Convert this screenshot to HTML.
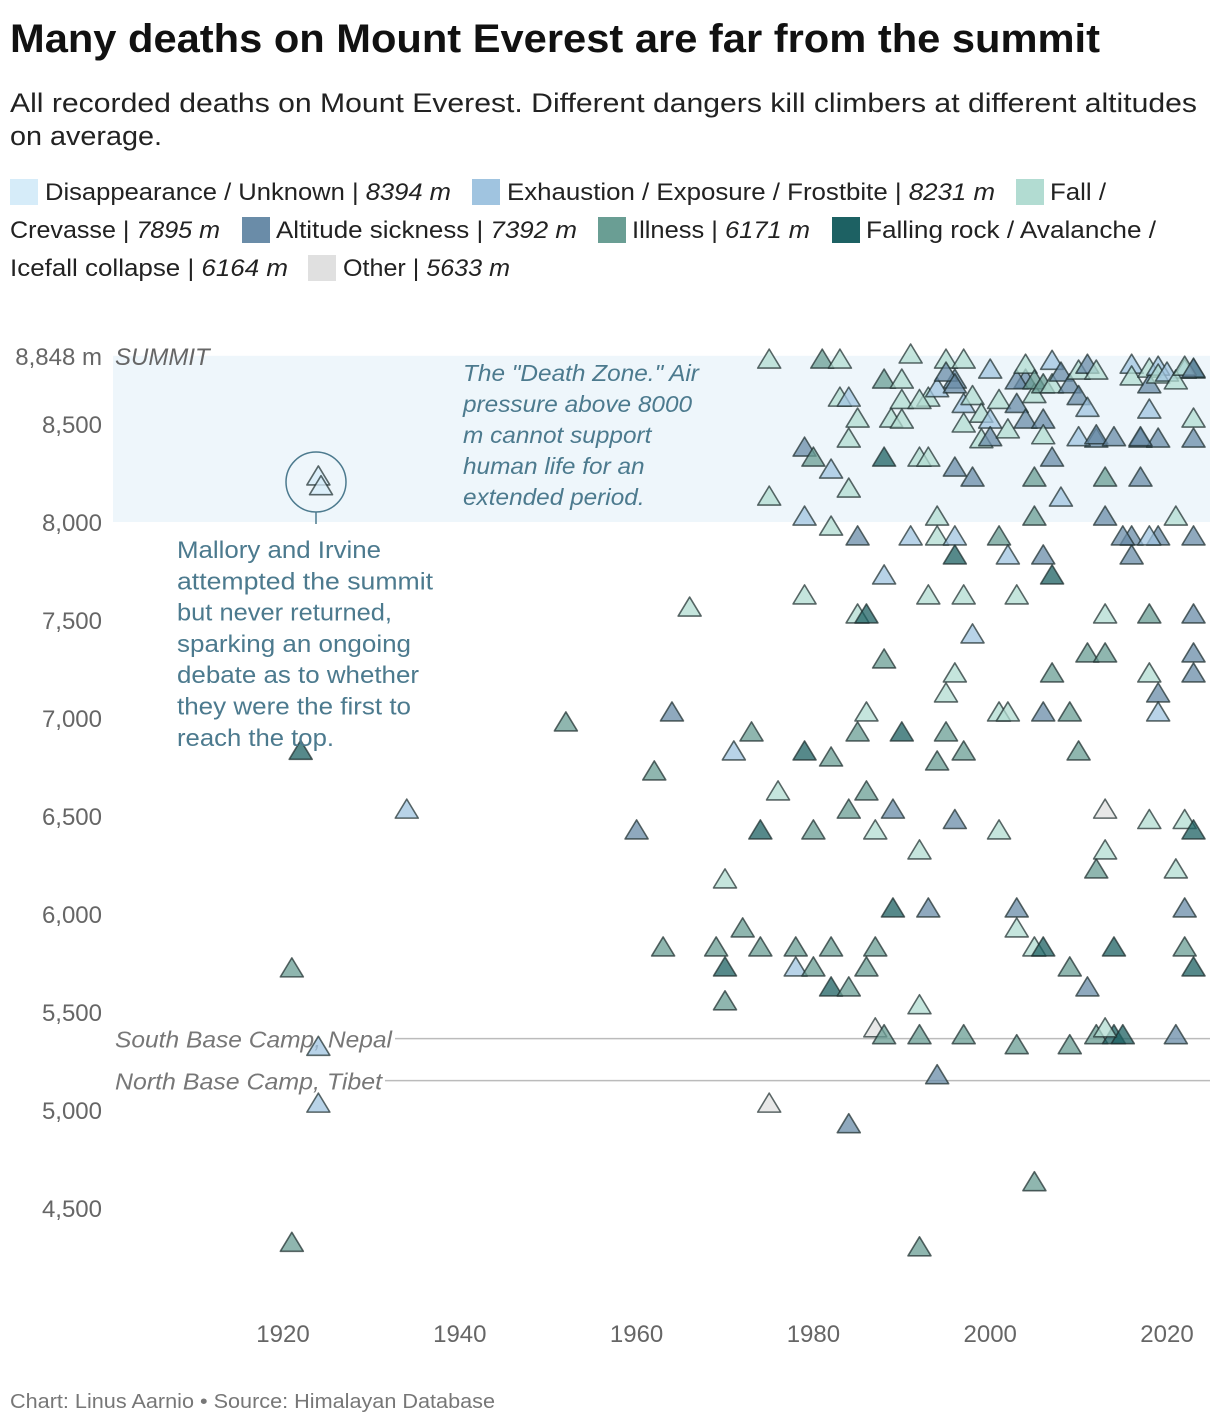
<!DOCTYPE html>
<html><head><meta charset="utf-8">
<style>
body{margin:0;background:#fff;font-family:"Liberation Sans",sans-serif;}
svg{display:block}
</style></head>
<body>
<svg id="chart" width="1220" height="1424" viewBox="0 0 1220 1424" xmlns="http://www.w3.org/2000/svg" font-family="Liberation Sans, sans-serif">
<text x="10" y="52" font-size="40" font-weight="bold" fill="#111" textLength="1090" lengthAdjust="spacingAndGlyphs">Many deaths on Mount Everest are far from the summit</text>
<text x="10" y="112" font-size="27" fill="#222" textLength="1187" lengthAdjust="spacingAndGlyphs">All recorded deaths on Mount Everest. Different dangers kill climbers at different altitudes</text>
<text x="10" y="145" font-size="27" fill="#222" textLength="152" lengthAdjust="spacingAndGlyphs">on average.</text>
<g font-size="24" fill="#222">
<rect x="10" y="179" width="28" height="26" fill="#d6ecf9"/>
<text x="45" y="200" textLength="406" lengthAdjust="spacingAndGlyphs">Disappearance / Unknown | <tspan font-style="italic">8394 m</tspan></text>
<rect x="472" y="179" width="28" height="26" fill="#a0c4e0"/>
<text x="507" y="200" textLength="488" lengthAdjust="spacingAndGlyphs">Exhaustion / Exposure / Frostbite | <tspan font-style="italic">8231 m</tspan></text>
<rect x="1016" y="179" width="28" height="26" fill="#b2dcd2"/>
<text x="1050" y="200" textLength="56" lengthAdjust="spacingAndGlyphs">Fall /</text>
<text x="10" y="238" textLength="210" lengthAdjust="spacingAndGlyphs">Crevasse | <tspan font-style="italic">7895 m</tspan></text>
<rect x="242" y="217" width="28" height="26" fill="#6a8ca8"/>
<text x="276" y="238" textLength="301" lengthAdjust="spacingAndGlyphs">Altitude sickness | <tspan font-style="italic">7392 m</tspan></text>
<rect x="598" y="217" width="28" height="26" fill="#6a9e94"/>
<text x="632" y="238" textLength="178" lengthAdjust="spacingAndGlyphs">Illness | <tspan font-style="italic">6171 m</tspan></text>
<rect x="832" y="217" width="28" height="26" fill="#1d6163"/>
<text x="866" y="238" textLength="290" lengthAdjust="spacingAndGlyphs">Falling rock / Avalanche /</text>
<text x="10" y="276" textLength="278" lengthAdjust="spacingAndGlyphs">Icefall collapse | <tspan font-style="italic">6164 m</tspan></text>
<rect x="308" y="255" width="28" height="26" fill="#e0e0e0"/>
<text x="343" y="276" textLength="167" lengthAdjust="spacingAndGlyphs">Other | <tspan font-style="italic">5633 m</tspan></text>
</g>
<g id="plot"></g>
<text x="10" y="1408" font-size="20" fill="#777" textLength="485" lengthAdjust="spacingAndGlyphs">Chart: Linus Aarnio • Source: Himalayan Database</text>
</svg>
<script>
const categories = ["Disappearance","Exhaustion","Fall","Altitude sickness","Illness","Falling rock","Other"];
const catColors = ["#d6ecf9","#a0c4e0","#b2dcd2","#6a8ca8","#6a9e94","#1d6163","#e0e0e0"];
const yTicks = [4500,5000,5500,6000,6500,7000,7500,8000,8500];
const xTicks = [1920,1940,1960,1980,2000,2020];
// D=0 E=1 F=2 A=3 I=4 R=5 O=6
const years = [1921,1921,1922,1924,1924.3,1924,1924,1934,1952,1960,1962,1963,1964,1966,1970,1970,1969,1970,1971,1972,1973,1974,1974,1975,1975,1975,1976,1978,1978,1979,1979,1979,1979,1980,1980,1980,1981,1983,1982,1982,1982,1982,1982,1983,1984,1984,1984,1984,1984,1984,1985,1985,1985,1985,1986,1986,1986,1986,1987,1987,1987,1988,1988,1988,1988,1988,1988.8,1989,1989,1990,1990,1991,1991,1992,1992,1992,1992,1992,1993,1993,1993,1993,1994,1994,1994,1994,1995,1995,1995,1996,1996,1996,1996,1996,1996,1997,1997,1997,1997,1998,1998,2000,2001,2001,2001,2002,2002,2003,2003,2003,2003,2004,2005,2005,2005,2005,2006,2006,2006,2007,2007,2007,2008,2009,2009,2009,2010,2011,2011,2012,2012,2012,2013,2013,2013,2013,2013,2013,2014,2014,2015,2016,2016,2017,2017,2018,2018,2018,2018,2019,2019,2019,2019,2021,2021,2021,2022,2022,2022,2023,2023,2023,2023,2023,2023,2023,2023,2023,2022,2013,2018,2015,
1990,1990,1992,1994,1995,1996,1997,1997,1998,1999,1999,2000,2000,2001,2002,2003,2003,2004,2004,2005,2005,2006,2006,2006,2007,2007,2008,2009,2010,2010,2010,2011,2011,2012,2012,2014,2016,2016,2017,2018,2018,2019,2019,2020,2021,2022,2023];
const altitudes = [5720,4320,6830,8230,8180,5320,5030,6530,6975,6424,6725,5827,7026,7561,6174,5552,5827,5725,6827,5924,6924,6424,5827,8826,8127,5030,6623,5827,5725,7623,8025,8377,6827,5725,6424,8326,8826,8826,8265,7974,6796,5827,5623,8632,8632,8423,8168,5623,4925,6530,7924,8525,6924,7526,7526,7026,6623,5725,5414,6424,5827,8724,8326,7725,7296,5379,8525,6530,6026,6924,8724,8852,7924,8326,5532,5379,6322,4297,8326,7623,6026,8632,7924,8025,5175,6776,6924,8826,7123,7225,8724,8275,7827,7924,6477,8826,7623,6827,5379,8224,7424,8775,7924,7026,6424,7827,7026,7623,6026,5924,5328,8724,5827,8224,8025,4629,7827,7026,5827,7725,7225,8326,8122,7026,5725,5328,6827,7327,5623,8423,6225,5379,8025,8224,7526,7327,6530,6322,5827,5379,5379,7924,7827,8224,8423,7526,7225,6477,8571,7123,7026,7924,8423,6225,8025,5379,6026,5827,6477,7526,7327,7225,6424,5725,7924,8423,8525,8775,8775,5414,7924,7924,
8620,8520,8620,8680,8760,8700,8600,8500,8640,8420,8550,8520,8430,8620,8470,8720,8600,8520,8800,8650,8720,8520,8700,8440,8700,8820,8760,8700,8640,8770,8430,8800,8580,8770,8440,8430,8800,8740,8430,8780,8700,8790,8750,8760,8720,8790,8780];
const causes = [4,4,5,0,0,1,1,1,4,3,4,4,3,2,2,4,4,5,1,4,4,5,4,2,2,6,2,4,1,2,1,3,5,4,4,4,4,2,1,2,4,4,5,2,1,2,2,4,3,4,3,2,4,2,5,2,4,4,6,2,4,4,5,1,4,4,2,3,5,5,2,2,1,2,2,4,2,4,2,2,3,2,2,2,3,4,4,2,2,2,3,3,5,1,3,2,2,4,4,3,1,1,4,2,2,1,2,2,3,2,4,3,2,4,4,4,3,3,5,5,4,3,1,4,4,4,4,4,3,3,4,4,3,4,2,4,6,2,5,5,5,3,3,3,3,4,2,2,1,3,1,3,3,2,2,3,3,4,2,3,3,3,5,5,3,3,2,5,1,2,1,3,
2,2,2,1,3,3,1,2,2,2,2,1,3,2,2,3,3,3,2,2,4,3,4,2,2,1,3,3,3,2,1,3,1,2,3,3,1,2,3,2,3,1,2,1,2,2,3];

const NS="http://www.w3.org/2000/svg";
const plot=document.getElementById('plot');
const xScale = yr => 283 + (yr-1920)*8.84;
const yScale = m => 522 + (8000-m)*0.196;
function mk(tag, attrs){const e=document.createElementNS(NS,tag);for(const k in attrs)e.setAttribute(k,attrs[k]);plot.appendChild(e);return e;}

let dz=mk('rect',{x:113,y:yScale(8848),width:1097,height:yScale(8000)-yScale(8848),fill:'#eef6fb'});



const camps=[["South Base Camp, Nepal",5364,395],["North Base Camp, Tibet",5150,385]];
camps.forEach((c,i)=>{
  let l=mk('line',{x1:c[2],x2:1210,y1:yScale(c[1]),y2:yScale(c[1]),stroke:'#bbb','stroke-width':1.5});
  
  
  let t=mk('text',{x:115,y:yScale(c[1])+9,'font-size':23,'font-style':'italic',fill:'#777'});
  t.textContent=c[0];
  
  
  t.setAttribute('textLength', c[2]-118);
  t.setAttribute('lengthAdjust','spacingAndGlyphs');
});

yTicks.forEach(v=>{
  let t=mk('text',{x:102,y:yScale(v)+9,'font-size':24,fill:'#666','text-anchor':'end'});
  t.textContent=v.toLocaleString('en-US');
  
  
});
let st=mk('text',{x:102,y:yScale(8848)+9,'font-size':24,fill:'#666','text-anchor':'end'});
st.textContent='8,848 m';


let sl=mk('text',{x:115,y:yScale(8848)+9,'font-size':24,fill:'#666','font-style':'italic'});
sl.textContent='SUMMIT';



xTicks.forEach(v=>{
  let t=mk('text',{x:xScale(v),y:1342,'font-size':24,fill:'#666','text-anchor':'middle'});
  t.textContent=v;
  
  
});

for(let i=0;i<years.length;i++){
  const x=xScale(years[i]), y=yScale(altitudes[i]), c=causes[i];
  let p=mk('path',{d:`M${x},${y-11}L${x-11.5},${y+8}L${x+11.5},${y+8}Z`,fill:catColors[c],'fill-opacity':0.75,stroke:'#1a2a2a','stroke-opacity':0.7,'stroke-width':1.6,'stroke-linejoin':'round'});
  
  
}

const ac='#4c7a8e';
let circ=mk('circle',{cx:316,cy:482,r:30,fill:'none',stroke:ac,'stroke-width':1.5});


let cl=mk('line',{x1:316,x2:316,y1:512,y2:524,stroke:ac,'stroke-width':1.5});


const mLines=["Mallory and Irvine","attempted the summit","but never returned,","sparking an ongoing","debate as to whether","they were the first to","reach the top."];
const mWidths=[204,256,215,234,242,234,157];
mLines.forEach((s,i)=>{
  let t=mk('text',{x:177,y:558+i*31.3,'font-size':24,fill:ac});
  t.textContent=s;
  
  
  t.setAttribute('textLength', mWidths[i]);
  t.setAttribute('lengthAdjust','spacingAndGlyphs');
});
const dLines=['The "Death Zone." Air','pressure above 8000','m cannot support','human life for an','extended period.'];
dLines.forEach((s,i)=>{
  let t=mk('text',{x:463,y:381+i*31,'font-size':23,'font-style':'italic',fill:ac});
  t.textContent=s;
  
  
  const w=t.getComputedTextLength();
  t.setAttribute('textLength', (w*1.06).toFixed(1));
  t.setAttribute('lengthAdjust','spacingAndGlyphs');
});
</script>
</body></html>
